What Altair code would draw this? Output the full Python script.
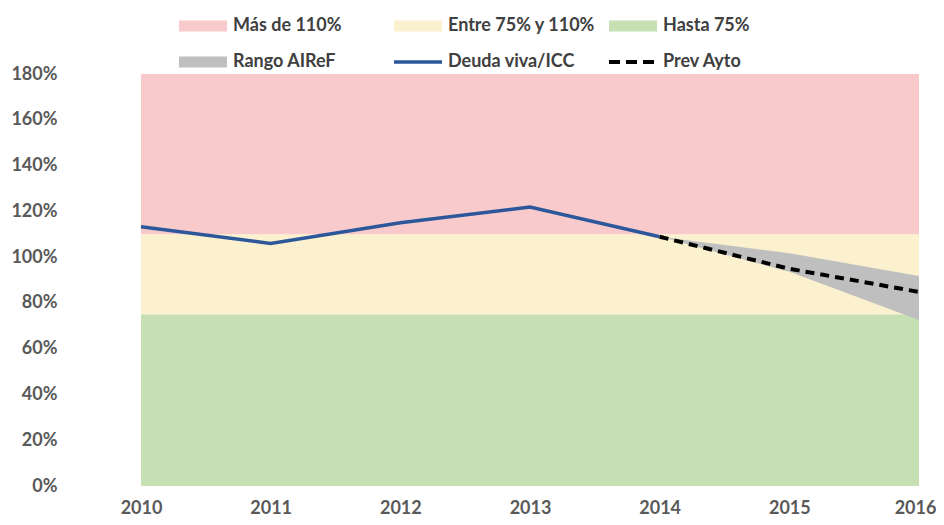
import altair as alt
import pandas as pd

# ---- data ----
deuda_years = [2010, 2011, 2012, 2013, 2014]
deuda = [113.3, 106.0, 115.0, 121.9, 108.9]
prev_years = [2014, 2015, 2016]
prev = [108.9, 94.9, 84.8]
rango_lo = [108.9, 93.6, 72.5]
rango_hi = [108.9, 101.7, 91.7]
band_names = ["Hasta 75%", "Entre 75% y 110%", "Más de 110%"]
band_lo = [0, 75, 110]
band_hi = [75, 110, 180]
x_start = [2010, 2010, 2010]
x_end = [2016, 2016, 2016]
year_ticks = [2010, 2011, 2012, 2013, 2014, 2015, 2016]
y_ticks = [0, 20, 40, 60, 80, 100, 120, 140, 160, 180]
legend_labels = ["Más de 110%", "Entre 75% y 110%", "Hasta 75%",
                 "Rango AIReF", "Deuda viva/ICC", "Prev Ayto"]
legend_kinds = ["fill", "fill", "fill", "fill", "line", "dash"]

# ---- styles ----
PINK, YELLOW, GREEN = "#F8CACC", "#FBF1CE", "#C6E0B4"
GREY, BLUE = "#BFBFBF", "#2C579B"
band_colors = [GREEN, YELLOW, PINK]
legend_colors = [PINK, YELLOW, GREEN, GREY, BLUE, "#000000"]
FONT = "Lato"
W, H = 778, 412

bands = pd.DataFrame({"name": band_names, "lo": band_lo, "hi": band_hi,
                      "x0": x_start, "x1": x_end, "color": band_colors})
deuda_df = pd.DataFrame({"year": deuda_years, "v": deuda})
prev_df = pd.DataFrame({"year": prev_years, "v": prev, "lo": rango_lo, "hi": rango_hi})

xscale = alt.Scale(domain=[2010, 2016], nice=False, zero=False)
yscale = alt.Scale(domain=[0, 180], nice=False)

xaxis = alt.Axis(values=year_ticks, format="d", title=None, grid=False, domain=False,
                 ticks=False, labelFont=FONT, labelFontSize=18, labelFontWeight="bold",
                 labelColor="#595959", labelPadding=13, labelFlush=False,
                 labelOffset={"condition": {"test": "datum.value == 2016", "value": -4},
                              "value": 0})
yaxis = alt.Axis(values=y_ticks, labelExpr="datum.value + '%'", title=None, grid=False,
                 domain=False, ticks=False, labelFont=FONT, labelFontSize=18,
                 labelFontWeight="bold", labelColor="#595959", labelPadding=84)

band_layer = alt.Chart(bands).mark_rect().encode(
    x=alt.X("x0:Q", scale=xscale, axis=xaxis),
    x2="x1:Q",
    y=alt.Y("lo:Q", scale=yscale, axis=yaxis),
    y2="hi:Q",
    color=alt.Color("color:N", scale=None),
)

range_layer = alt.Chart(prev_df).mark_area(color=GREY, opacity=1).encode(
    x=alt.X("year:Q", scale=xscale),
    y=alt.Y("lo:Q", scale=yscale),
    y2="hi:Q",
)

deuda_layer = alt.Chart(deuda_df).mark_line(color=BLUE, strokeWidth=3.5).encode(
    x=alt.X("year:Q", scale=xscale),
    y=alt.Y("v:Q", scale=yscale),
)

prev_layer = alt.Chart(prev_df).mark_line(color="#000000", strokeWidth=4,
                                          strokeDash=[9, 6]).encode(
    x=alt.X("year:Q", scale=xscale),
    y=alt.Y("v:Q", scale=yscale),
)

main = alt.layer(band_layer, range_layer, deuda_layer, prev_layer)

# ---- legend (laid out in pixels above the plot) ----
LX0, LDX, SW, TOFF = 38, 215, 48, 54
LY0, LDY = -48, 36
rows = []
for i, (lab, kind, col) in enumerate(zip(legend_labels, legend_kinds, legend_colors)):
    c, r = i % 3, i // 3
    x0 = LX0 + c * LDX
    yc = LY0 + r * LDY
    rows.append({"label": lab, "kind": kind, "color": col, "x0": x0, "x1": x0 + SW,
                 "xt": x0 + TOFF, "yc": yc, "ya": yc - 5.5, "yb": yc + 5.5})
leg = pd.DataFrame(rows)

px = lambda f: alt.X(f, scale=None, axis=None)
py = lambda f: alt.Y(f, scale=None, axis=None)

leg_fill = alt.Chart(leg).transform_filter("datum.kind == 'fill'").mark_rect().encode(
    x=px("x0:Q"), x2="x1:Q", y=py("ya:Q"), y2="yb:Q",
    color=alt.Color("color:N", scale=None))
leg_line = alt.Chart(leg).transform_filter("datum.kind == 'line'").mark_rule(
    color=BLUE, strokeWidth=3.5).encode(x=px("x0:Q"), x2="x1:Q", y=py("yc:Q"))
leg_dash = alt.Chart(leg).transform_filter("datum.kind == 'dash'").mark_rule(
    color="#000000", strokeWidth=4, strokeDash=[11, 6]).encode(
    x=px("x0:Q"), x2="x1:Q", y=py("yc:Q"))
leg_text = alt.Chart(leg).mark_text(align="left", baseline="middle", font=FONT,
                                    fontSize=18, fontWeight="bold", color="#404040").encode(
    x=px("xt:Q"), y=py("yc:Q"), text="label:N")

legend = alt.layer(leg_fill, leg_line, leg_dash, leg_text)

chart = alt.layer(main, legend).resolve_scale(
    x="independent", y="independent", color="independent"
).properties(
    width=W, height=H,
    autosize=alt.AutoSizeParams(type="none"),
    padding={"left": 133, "top": 66, "right": 17, "bottom": 32},
).configure_view(stroke=None)

chart.save("out.html", embed_options={"renderer": "svg", "actions": False})
